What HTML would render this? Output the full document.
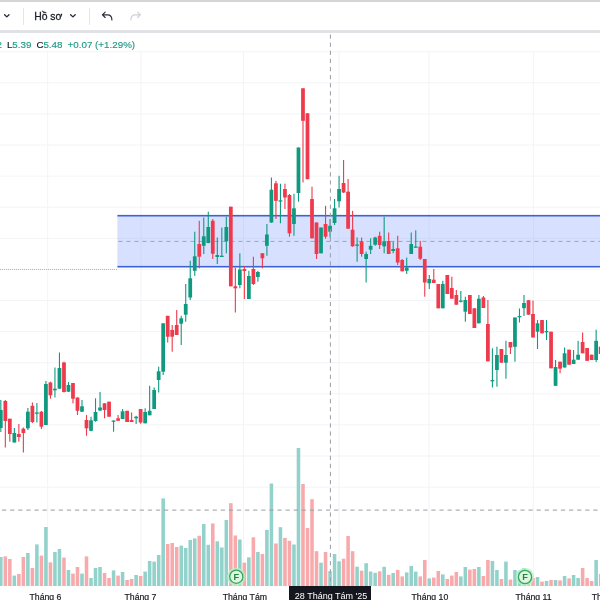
<!DOCTYPE html>
<html><head><meta charset="utf-8"><title>Chart</title>
<style>
html,body{margin:0;padding:0;background:#fff;}
body{width:600px;height:600px;overflow:hidden;position:relative;font-family:"Liberation Sans",sans-serif;color:#131722;}
#top{position:absolute;left:0;top:0;width:600px;height:2.1px;background:#d5d5d5;}
#sep{position:absolute;left:0;top:30.2px;width:600px;height:2.6px;background:#e1e2e6;}
.vs{position:absolute;top:8px;width:1px;height:16.5px;background:#e4e6ec;}
.t{position:absolute;white-space:nowrap;line-height:1;}
#tb{font-size:10.4px;top:11.6px;left:34.2px;color:#1b1e27;-webkit-text-stroke:0.3px #1b1e27;}
.lg{font-size:9.8px;top:40.2px;-webkit-text-stroke:0.15px currentColor;}
.tl{color:#1d9a84;}
.ax{font-size:8.7px;top:592.8px;color:#1a1d26;-webkit-text-stroke:0.2px #1a1d26;}
#chart{position:absolute;left:0;top:0;}
#lbl{position:absolute;left:288.8px;top:586px;width:82.5px;height:14px;background:#15171f;}
#lbl span{position:absolute;left:6px;top:6.2px;font-size:9px;line-height:1;color:#fff;white-space:nowrap;}
</style></head><body>
<div id="top"></div>
<svg id="chart" width="600" height="600" viewBox="0 0 600 600">
<rect x="0" y="51.2" width="600" height="1" fill="#f3f4f7"/>
<rect x="0" y="82.3" width="600" height="1" fill="#f3f4f7"/>
<rect x="0" y="113.4" width="600" height="1" fill="#f3f4f7"/>
<rect x="0" y="144.5" width="600" height="1" fill="#f3f4f7"/>
<rect x="0" y="175.6" width="600" height="1" fill="#f3f4f7"/>
<rect x="0" y="206.7" width="600" height="1" fill="#f3f4f7"/>
<rect x="0" y="237.8" width="600" height="1" fill="#f3f4f7"/>
<rect x="0" y="268.9" width="600" height="1" fill="#f3f4f7"/>
<rect x="0" y="300" width="600" height="1" fill="#f3f4f7"/>
<rect x="0" y="331.1" width="600" height="1" fill="#f3f4f7"/>
<rect x="0" y="362.2" width="600" height="1" fill="#f3f4f7"/>
<rect x="0" y="393.3" width="600" height="1" fill="#f3f4f7"/>
<rect x="0" y="424.4" width="600" height="1" fill="#f3f4f7"/>
<rect x="0" y="455.5" width="600" height="1" fill="#f3f4f7"/>
<rect x="0" y="486.6" width="600" height="1" fill="#f3f4f7"/>
<rect x="47.2" y="52" width="1" height="534" fill="#f3f4f7"/>
<rect x="140.5" y="52" width="1" height="534" fill="#f3f4f7"/>
<rect x="243" y="52" width="1" height="534" fill="#f3f4f7"/>
<rect x="338.5" y="52" width="1" height="534" fill="#f3f4f7"/>
<rect x="428.5" y="52" width="1" height="534" fill="#f3f4f7"/>
<rect x="532.9" y="52" width="1" height="534" fill="#f3f4f7"/>
<line x1="0" y1="269.5" x2="118" y2="269.5" stroke="#9dbfb4" stroke-width="1" stroke-dasharray="1 1"/>
<rect x="-0.95" y="557" width="3.55" height="29" fill="#92d2cb"/>
<rect x="3.56" y="556.4" width="3.55" height="29.6" fill="#f8a9ab"/>
<rect x="8.06" y="559" width="3.55" height="27" fill="#f8a9ab"/>
<rect x="12.57" y="575.6" width="3.55" height="10.4" fill="#92d2cb"/>
<rect x="17.09" y="574" width="3.55" height="12" fill="#f8a9ab"/>
<rect x="21.59" y="557" width="3.55" height="29" fill="#f8a9ab"/>
<rect x="26.11" y="553" width="3.55" height="33" fill="#92d2cb"/>
<rect x="30.62" y="568" width="3.55" height="18" fill="#f8a9ab"/>
<rect x="35.12" y="544.4" width="3.55" height="41.6" fill="#92d2cb"/>
<rect x="39.63" y="555.6" width="3.55" height="30.4" fill="#f8a9ab"/>
<rect x="44.14" y="527" width="3.55" height="59" fill="#92d2cb"/>
<rect x="48.66" y="562.4" width="3.55" height="23.6" fill="#f8a9ab"/>
<rect x="53.16" y="552" width="3.55" height="34" fill="#92d2cb"/>
<rect x="57.67" y="549" width="3.55" height="37" fill="#92d2cb"/>
<rect x="62.19" y="557.6" width="3.55" height="28.4" fill="#f8a9ab"/>
<rect x="66.69" y="570" width="3.55" height="16" fill="#92d2cb"/>
<rect x="71.2" y="573.6" width="3.55" height="12.4" fill="#f8a9ab"/>
<rect x="75.71" y="567" width="3.55" height="19" fill="#f8a9ab"/>
<rect x="80.22" y="573.6" width="3.55" height="12.4" fill="#92d2cb"/>
<rect x="84.73" y="556.4" width="3.55" height="29.6" fill="#f8a9ab"/>
<rect x="89.24" y="578" width="3.55" height="8" fill="#92d2cb"/>
<rect x="93.75" y="568" width="3.55" height="18" fill="#92d2cb"/>
<rect x="98.26" y="567" width="3.55" height="19" fill="#92d2cb"/>
<rect x="102.77" y="573" width="3.55" height="13" fill="#f8a9ab"/>
<rect x="107.28" y="578" width="3.55" height="8" fill="#f8a9ab"/>
<rect x="111.79" y="570.4" width="3.55" height="15.6" fill="#92d2cb"/>
<rect x="116.3" y="575.6" width="3.55" height="10.4" fill="#f8a9ab"/>
<rect x="120.81" y="572" width="3.55" height="14" fill="#92d2cb"/>
<rect x="125.32" y="580" width="3.55" height="6" fill="#f8a9ab"/>
<rect x="129.83" y="579" width="3.55" height="7" fill="#f8a9ab"/>
<rect x="134.34" y="575" width="3.55" height="11" fill="#92d2cb"/>
<rect x="138.85" y="576" width="3.55" height="10" fill="#f8a9ab"/>
<rect x="143.36" y="571.6" width="3.55" height="14.4" fill="#92d2cb"/>
<rect x="147.87" y="561" width="3.55" height="25" fill="#92d2cb"/>
<rect x="152.38" y="561.6" width="3.55" height="24.4" fill="#92d2cb"/>
<rect x="156.89" y="555" width="3.55" height="31" fill="#92d2cb"/>
<rect x="161.4" y="498.4" width="3.55" height="87.6" fill="#92d2cb"/>
<rect x="165.91" y="544" width="3.55" height="42" fill="#f8a9ab"/>
<rect x="170.42" y="543" width="3.55" height="43" fill="#f8a9ab"/>
<rect x="174.93" y="547" width="3.55" height="39" fill="#f8a9ab"/>
<rect x="179.44" y="545.6" width="3.55" height="40.4" fill="#92d2cb"/>
<rect x="183.95" y="548" width="3.55" height="38" fill="#92d2cb"/>
<rect x="188.46" y="540" width="3.55" height="46" fill="#92d2cb"/>
<rect x="192.97" y="538.4" width="3.55" height="47.6" fill="#92d2cb"/>
<rect x="197.48" y="535.8" width="3.55" height="50.2" fill="#f8a9ab"/>
<rect x="201.99" y="524" width="3.55" height="62" fill="#92d2cb"/>
<rect x="206.5" y="544.8" width="3.55" height="41.2" fill="#92d2cb"/>
<rect x="211.01" y="523.5" width="3.55" height="62.5" fill="#f8a9ab"/>
<rect x="215.52" y="541.3" width="3.55" height="44.7" fill="#92d2cb"/>
<rect x="220.03" y="547.5" width="3.55" height="38.5" fill="#92d2cb"/>
<rect x="224.54" y="520" width="3.55" height="66" fill="#92d2cb"/>
<rect x="229.05" y="503.2" width="3.55" height="82.8" fill="#f8a9ab"/>
<rect x="233.56" y="535.5" width="3.55" height="50.5" fill="#f8a9ab"/>
<rect x="238.07" y="539.5" width="3.55" height="46.5" fill="#92d2cb"/>
<rect x="242.58" y="562.7" width="3.55" height="23.3" fill="#f8a9ab"/>
<rect x="247.09" y="557.3" width="3.55" height="28.7" fill="#92d2cb"/>
<rect x="251.6" y="537.3" width="3.55" height="48.7" fill="#f8a9ab"/>
<rect x="256.12" y="552" width="3.55" height="34" fill="#92d2cb"/>
<rect x="260.62" y="554" width="3.55" height="32" fill="#f8a9ab"/>
<rect x="265.13" y="529.9" width="3.55" height="56.1" fill="#92d2cb"/>
<rect x="269.64" y="483.5" width="3.55" height="102.5" fill="#92d2cb"/>
<rect x="274.16" y="543.5" width="3.55" height="42.5" fill="#f8a9ab"/>
<rect x="278.67" y="527.2" width="3.55" height="58.8" fill="#92d2cb"/>
<rect x="283.18" y="537.9" width="3.55" height="48.1" fill="#f8a9ab"/>
<rect x="287.69" y="540.8" width="3.55" height="45.2" fill="#f8a9ab"/>
<rect x="292.19" y="544.5" width="3.55" height="41.5" fill="#92d2cb"/>
<rect x="296.7" y="448" width="3.55" height="138" fill="#92d2cb"/>
<rect x="301.21" y="484" width="3.55" height="102" fill="#f8a9ab"/>
<rect x="305.73" y="528" width="3.55" height="58" fill="#f8a9ab"/>
<rect x="310.24" y="499.2" width="3.55" height="86.8" fill="#f8a9ab"/>
<rect x="314.75" y="551.2" width="3.55" height="34.8" fill="#f8a9ab"/>
<rect x="319.25" y="562.7" width="3.55" height="23.3" fill="#92d2cb"/>
<rect x="323.76" y="552" width="3.55" height="34" fill="#f8a9ab"/>
<rect x="328.27" y="571.2" width="3.55" height="14.8" fill="#92d2cb"/>
<rect x="332.79" y="554" width="3.55" height="32" fill="#92d2cb"/>
<rect x="337.3" y="561.3" width="3.55" height="24.7" fill="#92d2cb"/>
<rect x="341.81" y="558.7" width="3.55" height="27.3" fill="#f8a9ab"/>
<rect x="346.31" y="536" width="3.55" height="50" fill="#f8a9ab"/>
<rect x="350.82" y="551.2" width="3.55" height="34.8" fill="#f8a9ab"/>
<rect x="355.33" y="566.7" width="3.55" height="19.3" fill="#92d2cb"/>
<rect x="359.84" y="570.7" width="3.55" height="15.3" fill="#f8a9ab"/>
<rect x="364.36" y="563.2" width="3.55" height="22.8" fill="#92d2cb"/>
<rect x="368.87" y="571.5" width="3.55" height="14.5" fill="#92d2cb"/>
<rect x="373.38" y="572.8" width="3.55" height="13.2" fill="#92d2cb"/>
<rect x="377.88" y="571.3" width="3.55" height="14.7" fill="#f8a9ab"/>
<rect x="382.39" y="566.8" width="3.55" height="19.2" fill="#92d2cb"/>
<rect x="386.9" y="574.8" width="3.55" height="11.2" fill="#f8a9ab"/>
<rect x="391.42" y="573" width="3.55" height="13" fill="#92d2cb"/>
<rect x="395.93" y="570" width="3.55" height="16" fill="#f8a9ab"/>
<rect x="400.44" y="576.4" width="3.55" height="9.6" fill="#f8a9ab"/>
<rect x="404.94" y="572.4" width="3.55" height="13.6" fill="#92d2cb"/>
<rect x="409.45" y="566" width="3.55" height="20" fill="#92d2cb"/>
<rect x="413.96" y="571.6" width="3.55" height="14.4" fill="#92d2cb"/>
<rect x="418.48" y="576.4" width="3.55" height="9.6" fill="#f8a9ab"/>
<rect x="422.99" y="560" width="3.55" height="26" fill="#f8a9ab"/>
<rect x="427.5" y="578.4" width="3.55" height="7.6" fill="#92d2cb"/>
<rect x="432" y="577.6" width="3.55" height="8.4" fill="#f8a9ab"/>
<rect x="436.51" y="571" width="3.55" height="15" fill="#f8a9ab"/>
<rect x="441.02" y="574.4" width="3.55" height="11.6" fill="#92d2cb"/>
<rect x="445.53" y="579" width="3.55" height="7" fill="#f8a9ab"/>
<rect x="450.05" y="575.6" width="3.55" height="10.4" fill="#f8a9ab"/>
<rect x="454.56" y="572" width="3.55" height="14" fill="#f8a9ab"/>
<rect x="459.06" y="576.4" width="3.55" height="9.6" fill="#92d2cb"/>
<rect x="463.57" y="567" width="3.55" height="19" fill="#92d2cb"/>
<rect x="468.08" y="569.6" width="3.55" height="16.4" fill="#f8a9ab"/>
<rect x="472.59" y="569" width="3.55" height="17" fill="#f8a9ab"/>
<rect x="477.11" y="567" width="3.55" height="19" fill="#92d2cb"/>
<rect x="481.62" y="576" width="3.55" height="10" fill="#f8a9ab"/>
<rect x="486.12" y="560" width="3.55" height="26" fill="#f8a9ab"/>
<rect x="490.63" y="561" width="3.55" height="25" fill="#92d2cb"/>
<rect x="495.14" y="570" width="3.55" height="16" fill="#92d2cb"/>
<rect x="499.65" y="579" width="3.55" height="7" fill="#f8a9ab"/>
<rect x="504.17" y="561.6" width="3.55" height="24.4" fill="#92d2cb"/>
<rect x="508.68" y="579.6" width="3.55" height="6.4" fill="#f8a9ab"/>
<rect x="513.19" y="570" width="3.55" height="16" fill="#92d2cb"/>
<rect x="517.7" y="571" width="3.55" height="15" fill="#92d2cb"/>
<rect x="522.21" y="568" width="3.55" height="18" fill="#92d2cb"/>
<rect x="526.72" y="574" width="3.55" height="12" fill="#f8a9ab"/>
<rect x="531.23" y="578" width="3.55" height="8" fill="#f8a9ab"/>
<rect x="535.74" y="577" width="3.55" height="9" fill="#92d2cb"/>
<rect x="540.25" y="581.6" width="3.55" height="4.4" fill="#f8a9ab"/>
<rect x="544.75" y="581" width="3.55" height="5" fill="#92d2cb"/>
<rect x="549.27" y="580" width="3.55" height="6" fill="#f8a9ab"/>
<rect x="553.78" y="580" width="3.55" height="6" fill="#92d2cb"/>
<rect x="558.29" y="580.4" width="3.55" height="5.6" fill="#f8a9ab"/>
<rect x="562.8" y="576" width="3.55" height="10" fill="#92d2cb"/>
<rect x="567.31" y="578.4" width="3.55" height="7.6" fill="#f8a9ab"/>
<rect x="571.82" y="575" width="3.55" height="11" fill="#92d2cb"/>
<rect x="576.33" y="578" width="3.55" height="8" fill="#92d2cb"/>
<rect x="580.84" y="568" width="3.55" height="18" fill="#f8a9ab"/>
<rect x="585.35" y="578" width="3.55" height="8" fill="#f8a9ab"/>
<rect x="589.86" y="581" width="3.55" height="5" fill="#f8a9ab"/>
<rect x="594.37" y="560" width="3.55" height="26" fill="#92d2cb"/>
<rect x="598.88" y="574" width="3.55" height="12" fill="#f8a9ab"/>
<rect x="117.4" y="215.6" width="483" height="51.4" fill="#2962ff" fill-opacity="0.19"/>
<line x1="117.4" y1="241.4" x2="600" y2="241.4" stroke="#949cb5" stroke-width="0.9" stroke-dasharray="4.2 3.8" stroke-dashoffset="-1"/>
<rect x="117.4" y="214.9" width="483" height="1.6" fill="#3c62d6"/>
<rect x="117.4" y="265.9" width="483" height="1.6" fill="#3c62d6"/>
<rect x="0.27" y="400" width="1.1" height="32" fill="#0f9a80"/>
<rect x="-1.06" y="410" width="3.75" height="18" fill="#0f9a80"/>
<rect x="4.78" y="400" width="1.1" height="47.5" fill="#ee3a4c"/>
<rect x="3.46" y="401" width="3.75" height="20" fill="#ee3a4c"/>
<rect x="9.29" y="418.7" width="1.1" height="23" fill="#ee3a4c"/>
<rect x="7.96" y="418.7" width="3.75" height="15.3" fill="#ee3a4c"/>
<rect x="13.8" y="428" width="1.1" height="14.5" fill="#0f9a80"/>
<rect x="12.47" y="433" width="3.75" height="9.5" fill="#0f9a80"/>
<rect x="18.31" y="424" width="1.1" height="17.7" fill="#ee3a4c"/>
<rect x="16.98" y="434" width="3.75" height="3" fill="#ee3a4c"/>
<rect x="22.82" y="427.5" width="1.1" height="25" fill="#ee3a4c"/>
<rect x="21.49" y="428.7" width="3.75" height="4.3" fill="#ee3a4c"/>
<rect x="27.33" y="408" width="1.1" height="22" fill="#0f9a80"/>
<rect x="26" y="411.7" width="3.75" height="16.6" fill="#0f9a80"/>
<rect x="31.84" y="402.5" width="1.1" height="20.5" fill="#ee3a4c"/>
<rect x="30.52" y="405.8" width="3.75" height="16.2" fill="#ee3a4c"/>
<rect x="36.35" y="403" width="1.1" height="19.5" fill="#0f9a80"/>
<rect x="35.02" y="412.5" width="3.75" height="1.3" fill="#0f9a80"/>
<rect x="40.86" y="411" width="1.1" height="18" fill="#ee3a4c"/>
<rect x="39.53" y="411.7" width="3.75" height="15" fill="#ee3a4c"/>
<rect x="45.37" y="381" width="1.1" height="44" fill="#0f9a80"/>
<rect x="44.04" y="384" width="3.75" height="41" fill="#0f9a80"/>
<rect x="49.88" y="381.7" width="1.1" height="17" fill="#ee3a4c"/>
<rect x="48.55" y="382.5" width="3.75" height="12.8" fill="#ee3a4c"/>
<rect x="54.39" y="367.5" width="1.1" height="30" fill="#0f9a80"/>
<rect x="53.06" y="388.7" width="3.75" height="1.6" fill="#0f9a80"/>
<rect x="58.9" y="352.5" width="1.1" height="36.2" fill="#0f9a80"/>
<rect x="57.57" y="368" width="3.75" height="20.7" fill="#0f9a80"/>
<rect x="63.41" y="361.7" width="1.1" height="30.8" fill="#ee3a4c"/>
<rect x="62.09" y="362.5" width="3.75" height="29.5" fill="#ee3a4c"/>
<rect x="67.92" y="382" width="1.1" height="10" fill="#0f9a80"/>
<rect x="66.59" y="385" width="3.75" height="6.7" fill="#0f9a80"/>
<rect x="72.43" y="383" width="1.1" height="20.3" fill="#ee3a4c"/>
<rect x="71.1" y="383" width="3.75" height="15.7" fill="#ee3a4c"/>
<rect x="76.94" y="397.5" width="1.1" height="17.5" fill="#ee3a4c"/>
<rect x="75.61" y="397.5" width="3.75" height="13.3" fill="#ee3a4c"/>
<rect x="81.45" y="400" width="1.1" height="12" fill="#0f9a80"/>
<rect x="80.12" y="406.3" width="3.75" height="5.4" fill="#0f9a80"/>
<rect x="85.96" y="415" width="1.1" height="20.8" fill="#ee3a4c"/>
<rect x="84.63" y="420" width="3.75" height="8.3" fill="#ee3a4c"/>
<rect x="90.47" y="416.7" width="1.1" height="14.6" fill="#0f9a80"/>
<rect x="89.14" y="420.3" width="3.75" height="10.5" fill="#0f9a80"/>
<rect x="94.98" y="398.3" width="1.1" height="23.4" fill="#0f9a80"/>
<rect x="93.65" y="412" width="3.75" height="9" fill="#0f9a80"/>
<rect x="99.49" y="392" width="1.1" height="19" fill="#0f9a80"/>
<rect x="98.16" y="407.5" width="3.75" height="3" fill="#0f9a80"/>
<rect x="104" y="403.3" width="1.1" height="15" fill="#ee3a4c"/>
<rect x="102.67" y="403.3" width="3.75" height="6.7" fill="#ee3a4c"/>
<rect x="108.51" y="401.7" width="1.1" height="15" fill="#ee3a4c"/>
<rect x="107.18" y="401.7" width="3.75" height="15" fill="#ee3a4c"/>
<rect x="113.02" y="420.5" width="1.1" height="11.2" fill="#0f9a80"/>
<rect x="111.69" y="420.5" width="3.75" height="1.3" fill="#0f9a80"/>
<rect x="117.53" y="415" width="1.1" height="5.8" fill="#ee3a4c"/>
<rect x="116.2" y="418.3" width="3.75" height="2.5" fill="#ee3a4c"/>
<rect x="122.04" y="409" width="1.1" height="10" fill="#0f9a80"/>
<rect x="120.71" y="411.3" width="3.75" height="7.7" fill="#0f9a80"/>
<rect x="126.55" y="410.8" width="1.1" height="11.2" fill="#ee3a4c"/>
<rect x="125.22" y="410.8" width="3.75" height="11.2" fill="#ee3a4c"/>
<rect x="131.06" y="412.5" width="1.1" height="9.5" fill="#ee3a4c"/>
<rect x="129.73" y="420" width="3.75" height="2" fill="#ee3a4c"/>
<rect x="135.57" y="415.8" width="1.1" height="8.2" fill="#0f9a80"/>
<rect x="134.24" y="416.7" width="3.75" height="1.6" fill="#0f9a80"/>
<rect x="140.08" y="409" width="1.1" height="14.8" fill="#ee3a4c"/>
<rect x="138.75" y="409" width="3.75" height="13.5" fill="#ee3a4c"/>
<rect x="144.59" y="408.3" width="1.1" height="15" fill="#0f9a80"/>
<rect x="143.26" y="412" width="3.75" height="11.3" fill="#0f9a80"/>
<rect x="149.1" y="385.8" width="1.1" height="29.5" fill="#0f9a80"/>
<rect x="147.77" y="410.8" width="3.75" height="4.5" fill="#0f9a80"/>
<rect x="153.61" y="387.5" width="1.1" height="21.5" fill="#0f9a80"/>
<rect x="152.28" y="390" width="3.75" height="19" fill="#0f9a80"/>
<rect x="158.12" y="366.7" width="1.1" height="25.8" fill="#0f9a80"/>
<rect x="156.79" y="371.3" width="3.75" height="8.7" fill="#0f9a80"/>
<rect x="162.63" y="323.3" width="1.1" height="51.7" fill="#0f9a80"/>
<rect x="161.3" y="323.3" width="3.75" height="48.4" fill="#0f9a80"/>
<rect x="167.14" y="315.8" width="1.1" height="26.7" fill="#ee3a4c"/>
<rect x="165.81" y="315.8" width="3.75" height="20.9" fill="#ee3a4c"/>
<rect x="171.65" y="325" width="1.1" height="26.7" fill="#ee3a4c"/>
<rect x="170.32" y="330" width="3.75" height="6.7" fill="#ee3a4c"/>
<rect x="176.16" y="310" width="1.1" height="25" fill="#ee3a4c"/>
<rect x="174.83" y="325" width="3.75" height="10" fill="#ee3a4c"/>
<rect x="180.67" y="315.8" width="1.1" height="29.2" fill="#0f9a80"/>
<rect x="179.34" y="318.3" width="3.75" height="5.4" fill="#0f9a80"/>
<rect x="185.18" y="284" width="1.1" height="37.7" fill="#0f9a80"/>
<rect x="183.85" y="304" width="3.75" height="10.7" fill="#0f9a80"/>
<rect x="189.69" y="260.8" width="1.1" height="39.2" fill="#0f9a80"/>
<rect x="188.36" y="278.3" width="3.75" height="19.2" fill="#0f9a80"/>
<rect x="194.2" y="231.7" width="1.1" height="44.1" fill="#0f9a80"/>
<rect x="192.87" y="256.3" width="3.75" height="14.5" fill="#0f9a80"/>
<rect x="198.71" y="220.8" width="1.1" height="47.5" fill="#ee3a4c"/>
<rect x="197.38" y="244" width="3.75" height="12.7" fill="#ee3a4c"/>
<rect x="203.22" y="217.5" width="1.1" height="36.5" fill="#0f9a80"/>
<rect x="201.89" y="236.3" width="3.75" height="9.5" fill="#0f9a80"/>
<rect x="207.73" y="211.7" width="1.1" height="31.6" fill="#0f9a80"/>
<rect x="206.4" y="227" width="3.75" height="16" fill="#0f9a80"/>
<rect x="212.24" y="219" width="1.1" height="40" fill="#ee3a4c"/>
<rect x="210.91" y="220.8" width="3.75" height="32.9" fill="#ee3a4c"/>
<rect x="216.75" y="237.5" width="1.1" height="26.5" fill="#0f9a80"/>
<rect x="215.42" y="255" width="3.75" height="2" fill="#0f9a80"/>
<rect x="221.26" y="227.5" width="1.1" height="29.2" fill="#0f9a80"/>
<rect x="219.93" y="255.7" width="3.75" height="1.3" fill="#0f9a80"/>
<rect x="225.77" y="216.7" width="1.1" height="36.6" fill="#0f9a80"/>
<rect x="224.44" y="227" width="3.75" height="14.3" fill="#0f9a80"/>
<rect x="230.28" y="206.7" width="1.1" height="79.6" fill="#ee3a4c"/>
<rect x="228.95" y="206.7" width="3.75" height="79.6" fill="#ee3a4c"/>
<rect x="234.79" y="267.5" width="1.1" height="45" fill="#ee3a4c"/>
<rect x="233.46" y="286.3" width="3.75" height="2" fill="#ee3a4c"/>
<rect x="239.3" y="253.3" width="1.1" height="35" fill="#0f9a80"/>
<rect x="237.97" y="269.5" width="3.75" height="15.5" fill="#0f9a80"/>
<rect x="243.81" y="266" width="1.1" height="33" fill="#ee3a4c"/>
<rect x="242.48" y="269" width="3.75" height="2" fill="#ee3a4c"/>
<rect x="248.32" y="270.8" width="1.1" height="28.2" fill="#0f9a80"/>
<rect x="246.99" y="276" width="3.75" height="23" fill="#0f9a80"/>
<rect x="252.83" y="256.7" width="1.1" height="28.3" fill="#ee3a4c"/>
<rect x="251.5" y="269" width="3.75" height="15" fill="#ee3a4c"/>
<rect x="257.34" y="270.8" width="1.1" height="10.9" fill="#0f9a80"/>
<rect x="256.01" y="272" width="3.75" height="5" fill="#0f9a80"/>
<rect x="261.85" y="253" width="1.1" height="15.3" fill="#ee3a4c"/>
<rect x="260.52" y="253.3" width="3.75" height="5" fill="#ee3a4c"/>
<rect x="266.36" y="224" width="1.1" height="31.8" fill="#0f9a80"/>
<rect x="265.03" y="234.5" width="3.75" height="11.3" fill="#0f9a80"/>
<rect x="270.87" y="177.5" width="1.1" height="45.3" fill="#0f9a80"/>
<rect x="269.54" y="189.7" width="3.75" height="32.8" fill="#0f9a80"/>
<rect x="275.38" y="180.8" width="1.1" height="38.2" fill="#ee3a4c"/>
<rect x="274.06" y="183.3" width="3.75" height="17.5" fill="#ee3a4c"/>
<rect x="279.89" y="183.7" width="1.1" height="39.6" fill="#0f9a80"/>
<rect x="278.56" y="200.3" width="3.75" height="1.3" fill="#0f9a80"/>
<rect x="284.4" y="183.7" width="1.1" height="25.3" fill="#ee3a4c"/>
<rect x="283.07" y="189" width="3.75" height="8.5" fill="#ee3a4c"/>
<rect x="288.91" y="194" width="1.1" height="42.7" fill="#ee3a4c"/>
<rect x="287.58" y="195" width="3.75" height="38.3" fill="#ee3a4c"/>
<rect x="293.42" y="193.7" width="1.1" height="42.1" fill="#0f9a80"/>
<rect x="292.09" y="208.3" width="3.75" height="15.7" fill="#0f9a80"/>
<rect x="297.93" y="147.5" width="1.1" height="54.2" fill="#0f9a80"/>
<rect x="296.6" y="147.5" width="3.75" height="45.5" fill="#0f9a80"/>
<rect x="302.44" y="88.3" width="1.1" height="94.2" fill="#ee3a4c"/>
<rect x="301.11" y="88.3" width="3.75" height="32.5" fill="#ee3a4c"/>
<rect x="306.95" y="113.3" width="1.1" height="65.9" fill="#ee3a4c"/>
<rect x="305.62" y="113.3" width="3.75" height="65.9" fill="#ee3a4c"/>
<rect x="311.46" y="186.7" width="1.1" height="51.6" fill="#ee3a4c"/>
<rect x="310.13" y="199" width="3.75" height="39.3" fill="#ee3a4c"/>
<rect x="315.97" y="222.5" width="1.1" height="36.5" fill="#ee3a4c"/>
<rect x="314.64" y="222.5" width="3.75" height="31.5" fill="#ee3a4c"/>
<rect x="320.48" y="227.5" width="1.1" height="25.8" fill="#0f9a80"/>
<rect x="319.15" y="227.5" width="3.75" height="25.8" fill="#0f9a80"/>
<rect x="324.99" y="205.8" width="1.1" height="32.9" fill="#ee3a4c"/>
<rect x="323.66" y="224" width="3.75" height="12.7" fill="#ee3a4c"/>
<rect x="329.5" y="219" width="1.1" height="18.5" fill="#0f9a80"/>
<rect x="328.17" y="225.8" width="3.75" height="5.9" fill="#0f9a80"/>
<rect x="334.01" y="199" width="1.1" height="26" fill="#0f9a80"/>
<rect x="332.69" y="208.3" width="3.75" height="14.7" fill="#0f9a80"/>
<rect x="338.52" y="175.8" width="1.1" height="31.7" fill="#0f9a80"/>
<rect x="337.19" y="189" width="3.75" height="12.3" fill="#0f9a80"/>
<rect x="343.03" y="160" width="1.1" height="33" fill="#ee3a4c"/>
<rect x="341.7" y="183" width="3.75" height="9.5" fill="#ee3a4c"/>
<rect x="347.54" y="179" width="1.1" height="49.7" fill="#ee3a4c"/>
<rect x="346.21" y="191.7" width="3.75" height="37" fill="#ee3a4c"/>
<rect x="352.05" y="210.8" width="1.1" height="35.9" fill="#ee3a4c"/>
<rect x="350.72" y="229.7" width="3.75" height="16.6" fill="#ee3a4c"/>
<rect x="356.56" y="237.5" width="1.1" height="24.2" fill="#0f9a80"/>
<rect x="355.23" y="244.5" width="3.75" height="1.3" fill="#0f9a80"/>
<rect x="361.07" y="237.5" width="1.1" height="19.2" fill="#ee3a4c"/>
<rect x="359.74" y="241.3" width="3.75" height="12.7" fill="#ee3a4c"/>
<rect x="365.58" y="251.7" width="1.1" height="30.8" fill="#0f9a80"/>
<rect x="364.25" y="254" width="3.75" height="5" fill="#0f9a80"/>
<rect x="370.09" y="238.3" width="1.1" height="15.7" fill="#0f9a80"/>
<rect x="368.76" y="245.8" width="3.75" height="3.9" fill="#0f9a80"/>
<rect x="374.6" y="236.7" width="1.1" height="9.1" fill="#0f9a80"/>
<rect x="373.27" y="237.5" width="3.75" height="7.2" fill="#0f9a80"/>
<rect x="379.11" y="231.7" width="1.1" height="17.3" fill="#ee3a4c"/>
<rect x="377.78" y="235.8" width="3.75" height="9.2" fill="#ee3a4c"/>
<rect x="383.62" y="216.7" width="1.1" height="36.6" fill="#0f9a80"/>
<rect x="382.29" y="241.5" width="3.75" height="4.8" fill="#0f9a80"/>
<rect x="388.13" y="232.5" width="1.1" height="21.5" fill="#ee3a4c"/>
<rect x="386.8" y="241" width="3.75" height="13" fill="#ee3a4c"/>
<rect x="392.64" y="241.7" width="1.1" height="11.6" fill="#0f9a80"/>
<rect x="391.31" y="249" width="3.75" height="2" fill="#0f9a80"/>
<rect x="397.15" y="235.8" width="1.1" height="29.2" fill="#ee3a4c"/>
<rect x="395.82" y="248.3" width="3.75" height="14.2" fill="#ee3a4c"/>
<rect x="401.66" y="259" width="1.1" height="12.3" fill="#ee3a4c"/>
<rect x="400.33" y="260" width="3.75" height="11.3" fill="#ee3a4c"/>
<rect x="406.17" y="257.5" width="1.1" height="16.5" fill="#0f9a80"/>
<rect x="404.84" y="267.5" width="3.75" height="3.3" fill="#0f9a80"/>
<rect x="410.68" y="232.5" width="1.1" height="21.5" fill="#0f9a80"/>
<rect x="409.35" y="244" width="3.75" height="10" fill="#0f9a80"/>
<rect x="415.19" y="230.3" width="1.1" height="17.2" fill="#0f9a80"/>
<rect x="413.86" y="246.5" width="3.75" height="1.3" fill="#0f9a80"/>
<rect x="419.7" y="240.8" width="1.1" height="19.2" fill="#ee3a4c"/>
<rect x="418.38" y="246.7" width="3.75" height="12" fill="#ee3a4c"/>
<rect x="424.21" y="259" width="1.1" height="37.7" fill="#ee3a4c"/>
<rect x="422.88" y="259" width="3.75" height="23.5" fill="#ee3a4c"/>
<rect x="428.72" y="275" width="1.1" height="14" fill="#0f9a80"/>
<rect x="427.39" y="279" width="3.75" height="4.3" fill="#0f9a80"/>
<rect x="433.23" y="269" width="1.1" height="14" fill="#ee3a4c"/>
<rect x="431.9" y="279.7" width="3.75" height="3.3" fill="#ee3a4c"/>
<rect x="437.74" y="284" width="1.1" height="24.3" fill="#ee3a4c"/>
<rect x="436.41" y="284" width="3.75" height="24.3" fill="#ee3a4c"/>
<rect x="442.25" y="280.8" width="1.1" height="27.5" fill="#0f9a80"/>
<rect x="440.92" y="284" width="3.75" height="24.3" fill="#0f9a80"/>
<rect x="446.76" y="275" width="1.1" height="19" fill="#ee3a4c"/>
<rect x="445.43" y="275" width="3.75" height="19" fill="#ee3a4c"/>
<rect x="451.27" y="276.7" width="1.1" height="22" fill="#ee3a4c"/>
<rect x="449.94" y="288" width="3.75" height="10.7" fill="#ee3a4c"/>
<rect x="455.78" y="290" width="1.1" height="14.7" fill="#ee3a4c"/>
<rect x="454.45" y="295" width="3.75" height="9.7" fill="#ee3a4c"/>
<rect x="460.29" y="291" width="1.1" height="11.5" fill="#0f9a80"/>
<rect x="458.96" y="300.5" width="3.75" height="1.3" fill="#0f9a80"/>
<rect x="464.8" y="296.7" width="1.1" height="25" fill="#0f9a80"/>
<rect x="463.47" y="300" width="3.75" height="11.7" fill="#0f9a80"/>
<rect x="469.31" y="295" width="1.1" height="19" fill="#ee3a4c"/>
<rect x="467.98" y="295" width="3.75" height="19" fill="#ee3a4c"/>
<rect x="473.82" y="308.3" width="1.1" height="19.7" fill="#ee3a4c"/>
<rect x="472.49" y="308.3" width="3.75" height="19.7" fill="#ee3a4c"/>
<rect x="478.33" y="295" width="1.1" height="28.3" fill="#0f9a80"/>
<rect x="477" y="298.7" width="3.75" height="24.6" fill="#0f9a80"/>
<rect x="482.84" y="296" width="1.1" height="12" fill="#ee3a4c"/>
<rect x="481.51" y="297.5" width="3.75" height="10.5" fill="#ee3a4c"/>
<rect x="487.35" y="300" width="1.1" height="61.3" fill="#ee3a4c"/>
<rect x="486.02" y="324" width="3.75" height="37.3" fill="#ee3a4c"/>
<rect x="491.86" y="348.3" width="1.1" height="39.2" fill="#0f9a80"/>
<rect x="490.53" y="380" width="3.75" height="1.3" fill="#0f9a80"/>
<rect x="496.37" y="346.7" width="1.1" height="40" fill="#0f9a80"/>
<rect x="495.04" y="355" width="3.75" height="15" fill="#0f9a80"/>
<rect x="500.88" y="349" width="1.1" height="13.7" fill="#ee3a4c"/>
<rect x="499.55" y="349" width="3.75" height="13.7" fill="#ee3a4c"/>
<rect x="505.39" y="340.8" width="1.1" height="37.9" fill="#0f9a80"/>
<rect x="504.06" y="355" width="3.75" height="7.7" fill="#0f9a80"/>
<rect x="509.9" y="342" width="1.1" height="12" fill="#ee3a4c"/>
<rect x="508.57" y="342" width="3.75" height="5.5" fill="#ee3a4c"/>
<rect x="514.41" y="317.5" width="1.1" height="44.2" fill="#0f9a80"/>
<rect x="513.09" y="317.5" width="3.75" height="29.3" fill="#0f9a80"/>
<rect x="518.92" y="308.5" width="1.1" height="14" fill="#0f9a80"/>
<rect x="517.6" y="316" width="3.75" height="1.3" fill="#0f9a80"/>
<rect x="523.43" y="295" width="1.1" height="21" fill="#0f9a80"/>
<rect x="522.11" y="303" width="3.75" height="5.2" fill="#0f9a80"/>
<rect x="527.94" y="300.2" width="1.1" height="14.5" fill="#ee3a4c"/>
<rect x="526.62" y="300.2" width="3.75" height="14.5" fill="#ee3a4c"/>
<rect x="532.45" y="300.5" width="1.1" height="37" fill="#ee3a4c"/>
<rect x="531.12" y="314" width="3.75" height="23.5" fill="#ee3a4c"/>
<rect x="536.96" y="320" width="1.1" height="29" fill="#0f9a80"/>
<rect x="535.63" y="323.3" width="3.75" height="8.4" fill="#0f9a80"/>
<rect x="541.47" y="320" width="1.1" height="13.3" fill="#ee3a4c"/>
<rect x="540.14" y="320" width="3.75" height="13.3" fill="#ee3a4c"/>
<rect x="545.98" y="320" width="1.1" height="20" fill="#0f9a80"/>
<rect x="544.65" y="331" width="3.75" height="1.3" fill="#0f9a80"/>
<rect x="550.49" y="331.7" width="1.1" height="36.6" fill="#ee3a4c"/>
<rect x="549.17" y="331.7" width="3.75" height="36.6" fill="#ee3a4c"/>
<rect x="555" y="360" width="1.1" height="25.8" fill="#0f9a80"/>
<rect x="553.68" y="367" width="3.75" height="18.8" fill="#0f9a80"/>
<rect x="559.51" y="361.7" width="1.1" height="11.6" fill="#ee3a4c"/>
<rect x="558.19" y="361.7" width="3.75" height="7" fill="#ee3a4c"/>
<rect x="564.02" y="347.5" width="1.1" height="20" fill="#0f9a80"/>
<rect x="562.7" y="353.3" width="3.75" height="14.2" fill="#0f9a80"/>
<rect x="568.53" y="349.7" width="1.1" height="15" fill="#ee3a4c"/>
<rect x="567.21" y="349.7" width="3.75" height="15" fill="#ee3a4c"/>
<rect x="573.04" y="350" width="1.1" height="14" fill="#0f9a80"/>
<rect x="571.72" y="359.7" width="3.75" height="4.3" fill="#0f9a80"/>
<rect x="577.55" y="340.8" width="1.1" height="18.9" fill="#0f9a80"/>
<rect x="576.23" y="354.7" width="3.75" height="5" fill="#0f9a80"/>
<rect x="582.06" y="332.5" width="1.1" height="20.8" fill="#ee3a4c"/>
<rect x="580.74" y="342" width="3.75" height="11.3" fill="#ee3a4c"/>
<rect x="586.57" y="348" width="1.1" height="12.8" fill="#ee3a4c"/>
<rect x="585.25" y="348" width="3.75" height="12.8" fill="#ee3a4c"/>
<rect x="591.08" y="354.7" width="1.1" height="5.3" fill="#ee3a4c"/>
<rect x="589.75" y="354.7" width="3.75" height="5.3" fill="#ee3a4c"/>
<rect x="595.59" y="329.7" width="1.1" height="32.3" fill="#0f9a80"/>
<rect x="594.26" y="340.8" width="3.75" height="19.2" fill="#0f9a80"/>
<rect x="600.1" y="346.7" width="1.1" height="7.3" fill="#ee3a4c"/>
<rect x="598.77" y="346.7" width="3.75" height="7.3" fill="#ee3a4c"/>
<line x1="330.4" y1="33" x2="330.4" y2="586" stroke="#9a9da4" stroke-width="1" stroke-dasharray="4.3 3.8" stroke-dashoffset="-1.5"/>
<line x1="0" y1="510.1" x2="600" y2="510.1" stroke="#9a9da4" stroke-width="1" stroke-dasharray="4.3 3.8" stroke-dashoffset="-2"/>
<circle cx="236.3" cy="576.7" r="9.2" fill="#b4f1c8" fill-opacity="0.8"/>
<circle cx="236.3" cy="576.7" r="6.6" fill="#dcf7df" stroke="#3aa558" stroke-width="1.3"/>
<text x="236.3" y="580.0" text-anchor="middle" font-family="Liberation Sans, sans-serif" font-weight="bold" font-size="9.2" fill="#2c7f47">F</text>
<circle cx="525" cy="577" r="9.2" fill="#b4f1c8" fill-opacity="0.8"/>
<circle cx="525" cy="577" r="6.6" fill="#dcf7df" stroke="#3aa558" stroke-width="1.3"/>
<text x="525" y="580.3" text-anchor="middle" font-family="Liberation Sans, sans-serif" font-weight="bold" font-size="9.2" fill="#2c7f47">F</text>
<g fill="none" stroke-linecap="round" stroke-linejoin="round">
<path d="M4.6 14.7 L6.8 16.9 L9 14.7" stroke="#23262f" stroke-width="1.25"/>
<path d="M70.6 14.7 L72.9 16.9 L75.2 14.7" stroke="#23262f" stroke-width="1.25"/>
<path d="M105.2 12.1 L102.4 14.8 L105.2 17.5 M102.6 14.8 H107.6 C110.4 14.8 111.9 16.9 111.9 19.9" stroke="#2a2d36" stroke-width="1.15"/>
<path d="M137.6 12.1 L140.4 14.8 L137.6 17.5 M140.2 14.8 H135.2 C132.4 14.8 130.9 16.9 130.9 19.9" stroke="#cfd1d6" stroke-width="1.15"/>
</g>
</svg>
<div id="sep"></div>
<div class="vs" style="left:23.3px"></div>
<div class="vs" style="left:89.1px"></div>
<div class="t" id="tb">Hồ sơ</div>
<div class="t lg tl" style="left:-3.4px">2</div>
<div class="t lg" style="left:6.9px">L</div>
<div class="t lg tl" style="left:12.3px">5.39</div>
<div class="t lg" style="left:36.6px">C</div>
<div class="t lg tl" style="left:43.4px">5.48</div>
<div class="t lg tl" style="left:67.6px">+0.07 (+1.29%)</div>
<div class="t ax" style="left:29.5px">Tháng 6</div>
<div class="t ax" style="left:124.5px">Tháng 7</div>
<div class="t ax" style="left:222.7px">Tháng Tám</div>
<div class="t ax" style="left:411.5px">Tháng 10</div>
<div class="t ax" style="left:515.5px">Tháng 11</div>
<div class="t ax" style="left:591.8px">Tháng 12</div>
<div id="lbl"><span>28 Tháng Tám '25</span></div>
</body></html>
